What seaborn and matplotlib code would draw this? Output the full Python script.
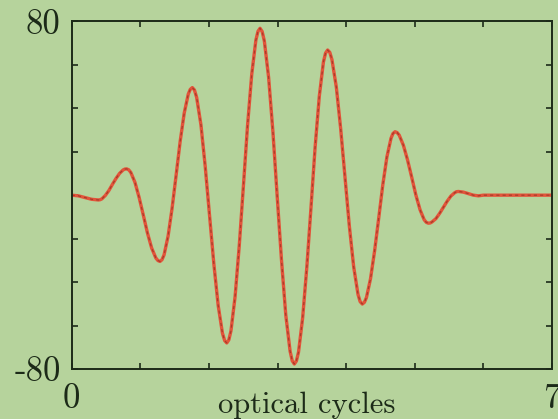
import matplotlib
matplotlib.use("Agg")
import matplotlib.pyplot as plt
import seaborn as sns
import pandas as pd

# ---- data ----
cycles = [
    0.000, 0.097, 0.194, 0.291, 0.388,
    0.414, 0.440, 0.491, 0.543, 0.594, 0.646, 0.697, 0.749, 0.774, 0.800,
    0.830, 0.861, 0.922, 0.983, 1.044, 1.104, 1.165, 1.226, 1.257, 1.287,
    1.316, 1.346, 1.405, 1.464, 1.523, 1.581, 1.640, 1.699, 1.728, 1.758,
    1.789, 1.821, 1.884, 1.946, 2.009, 2.072, 2.135, 2.197, 2.229, 2.260,
    2.290, 2.321, 2.381, 2.442, 2.503, 2.563, 2.624, 2.684, 2.715, 2.745,
    2.776, 2.808, 2.870, 2.933, 2.995, 3.058, 3.120, 3.183, 3.214, 3.245,
    3.275, 3.306, 3.366, 3.427, 3.488, 3.548, 3.609, 3.669, 3.700, 3.730,
    3.762, 3.793, 3.857, 3.920, 3.983, 4.046, 4.110, 4.173, 4.204, 4.236,
    4.266, 4.296, 4.355, 4.415, 4.475, 4.534, 4.594, 4.654, 4.683, 4.713,
    4.743, 4.774, 4.834, 4.895, 4.956, 5.016, 5.077, 5.137, 5.168, 5.198,
    5.225, 5.253, 5.308, 5.362, 5.417, 5.472, 5.527, 5.581, 5.609, 5.636,
    5.709, 5.782, 5.854, 5.927, 6.000, 7.000,
]
field = [
    0.0, -0.3, -1.1, -1.9, -2.2,
    -2.1, -1.7, -0.1, 2.2, 5.0, 7.7, 10.0, 11.6, 12.0, 12.1,
    11.7, 10.5, 5.9, -1.1, -9.2, -17.4, -24.3, -28.9, -30.1, -30.5,
    -29.7, -27.5, -18.8, -5.8, 9.5, 24.8, 37.8, 46.5, 48.7, 49.5,
    48.4, 45.0, 32.3, 13.2, -9.3, -31.7, -50.8, -63.5, -66.9, -68.0,
    -66.6, -62.5, -46.8, -23.3, 4.4, 32.1, 55.6, 71.3, 75.4, 76.8,
    75.3, 70.9, 54.2, 29.1, -0.5, -30.0, -55.1, -71.8, -76.2, -77.7,
    -76.3, -72.2, -56.5, -33.1, -5.5, 22.2, 45.6, 61.3, 65.4, 66.8,
    65.7, 62.4, 49.7, 30.7, 8.4, -14.0, -33.0, -45.7, -49.0, -50.1,
    -49.3, -47.1, -38.5, -25.6, -10.5, 4.7, 17.6, 26.2, 28.4, 29.2,
    28.8, 27.6, 23.0, 16.2, 8.2, 0.1, -6.7, -11.3, -12.5, -12.9,
    -12.8, -12.3, -10.8, -8.4, -5.6, -2.8, -0.4, 1.1, 1.6, 1.7,
    1.4, 0.7, 0.0, -0.3, 0.0, 0.0,
]
x_ticks = [0, 1, 2, 3, 4, 5, 6, 7]
x_tick_labels = ["0", "", "", "", "", "", "", "7"]
y_ticks = [-80, -60, -40, -20, 0, 20, 40, 60, 80]
y_tick_labels = ["-80", "", "", "", "", "", "", "", "80"]
x_label = "optical cycles"

BG = "#b6d39c"
RED = "#e2543a"
DARK = "#1c2a18"

sns.set_style("ticks")
plt.rcParams["font.family"] = ["cmr10", "DejaVu Serif"]
plt.rcParams["axes.unicode_minus"] = False

fig = plt.figure(figsize=(5.58, 4.19), dpi=100, facecolor=BG)
ax = fig.add_axes([0.1285, 0.1193, 0.8607, 0.8298])
ax.set_facecolor(BG)

df = pd.DataFrame({"cycles": cycles, "field": field})
sns.lineplot(data=df, x="cycles", y="field", ax=ax, color=RED, lw=2.4,
             sort=False, estimator=None)
sns.lineplot(data=df, x="cycles", y="field", ax=ax, color="#963424", lw=0.9,
             sort=False, estimator=None, linestyle=(0, (2.5, 2.5)),
             alpha=0.75)

ax.set_xlim(0, 7)
ax.set_ylim(-80, 80)
ax.set_xticks(x_ticks)
ax.set_xticklabels(x_tick_labels)
ax.set_yticks(y_ticks)
ax.set_yticklabels(y_tick_labels)
ax.set_xlabel("")
ax.set_ylabel("")

for s in ax.spines.values():
    s.set_visible(True)
    s.set_color(DARK)
    s.set_linewidth(1.4)

ax.tick_params(axis="both", direction="in", length=4, width=1.2,
               top=True, right=True, colors=DARK, labelsize=25,
               labelcolor=DARK)
ax.tick_params(axis="x", pad=10)
ax.tick_params(axis="y", pad=8)

fig.text(307 / 558, 6 / 419, x_label, ha="center", va="baseline",
         fontsize=22, color=DARK)

fig.savefig("out.png", dpi=100, facecolor=BG)
